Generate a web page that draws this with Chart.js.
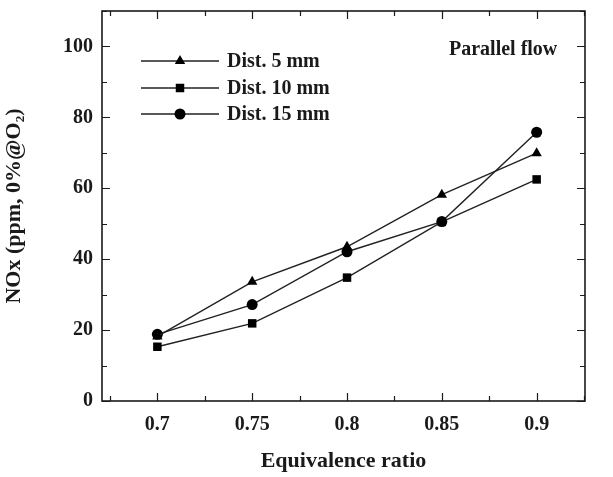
<!DOCTYPE html>
<html>
<head>
<meta charset="utf-8">
<script src="https://cdn.jsdelivr.net/npm/chart.js@4/dist/chart.umd.min.js"></script>
<style>
  html, body { margin: 0; padding: 0; background: #fff; }
  #wrap { width: 613px; height: 477px; }
</style>
</head>
<body>
<div id="wrap"><canvas id="nox"></canvas></div>
<script>
const ratios = [0.7, 0.75, 0.8, 0.85, 0.9];
const dist5 = [18.2, 33.6, 43.5, 58.2, 69.9];
const dist10 = [15.3, 21.9, 34.8, 50.5, 62.5];
const dist15 = [18.8, 27.2, 42.1, 50.6, 75.8];
const seriesNames = ["Dist. 5 mm", "Dist. 10 mm", "Dist. 15 mm"];

const xTicks = [0.675, 0.7, 0.725, 0.75, 0.775, 0.8, 0.825, 0.85, 0.875, 0.9, 0.925];
const xMajor = [0.7, 0.75, 0.8, 0.85, 0.9];
const yTicks = [0, 10, 20, 30, 40, 50, 60, 70, 80, 90, 100, 110];
const yMajor = [0, 20, 40, 60, 80, 100];

const serif = "'Liberation Serif', 'Times New Roman', serif";
const ink = "#1a1a1a";

const near = (list, v) => list.some((m) => Math.abs(m - v) < 1e-9);
const pts = (vals) => ratios.map((r, i) => ({ x: r, y: vals[i] }));

function series(label, vals, style, radius) {
  return {
    label,
    data: pts(vals),
    borderColor: "#222",
    backgroundColor: "#000",
    borderWidth: 1.4,
    pointStyle: style,
    pointRadius: radius,
    pointBorderWidth: 0,
    pointHoverRadius: radius,
    tension: 0,
  };
}

// box, inward ticks, legend and note
const decor = {
  id: "decor",
  afterDraw(chart) {
    const { ctx, chartArea: a, scales } = chart;
    const x = scales.x, y = scales.y;
    ctx.save();
    ctx.strokeStyle = ink;
    ctx.lineWidth = 1.2;
    x.ticks.forEach((t) => {
      const px = Math.round(x.getPixelForValue(t.value)) + 0.5;
      const len = near(xMajor, t.value) ? 8 : 5;
      ctx.beginPath();
      ctx.moveTo(px, a.bottom); ctx.lineTo(px, a.bottom - len);
      ctx.moveTo(px, a.top); ctx.lineTo(px, a.top + len);
      ctx.stroke();
    });
    y.ticks.forEach((t) => {
      const py = Math.round(y.getPixelForValue(t.value)) + 0.5;
      const len = near(yMajor, t.value) ? 8 : 5;
      ctx.beginPath();
      ctx.moveTo(a.left, py); ctx.lineTo(a.left + len, py);
      ctx.moveTo(a.right, py); ctx.lineTo(a.right - len, py);
      ctx.stroke();
    });
    ctx.lineWidth = 1.6;
    ctx.strokeRect(a.left, a.top, a.right - a.left, a.bottom - a.top);

    // legend
    const rows = [61, 88, 114];
    ctx.font = "bold 20px " + serif;
    ctx.textBaseline = "middle";
    chart.data.datasets.forEach((ds, i) => {
      const ly = rows[i];
      ctx.strokeStyle = "#222";
      ctx.lineWidth = 1.4;
      ctx.beginPath();
      ctx.moveTo(141, ly); ctx.lineTo(219, ly);
      ctx.stroke();
      ctx.fillStyle = "#000";
      Chart.helpers.drawPoint(ctx, { pointStyle: ds.pointStyle, radius: ds.pointRadius, borderWidth: 0 }, 180, ly);
      ctx.fillStyle = ink;
      ctx.fillText(ds.label, 227, ly + 1);
    });

    ctx.fillText("Parallel flow", 449, 50);
    ctx.restore();
  },
};

new Chart(document.getElementById("nox"), {
  type: "line",
  data: {
    datasets: [
      series(seriesNames[0], dist5, "triangle", 6),
      series(seriesNames[1], dist10, "rect", 6),
      series(seriesNames[2], dist15, "circle", 5.5),
    ],
  },
  options: {
    responsive: true,
    maintainAspectRatio: false,
    animation: false,
    layout: { padding: { top: 11, right: 28, left: 0, bottom: 0 } },
    plugins: { legend: { display: false }, tooltip: { enabled: false } },
    scales: {
      x: {
        type: "linear",
        min: 0.6708,
        max: 0.9255,
        afterBuildTicks: (s) => { s.ticks = xTicks.map((v) => ({ value: v })); },
        afterFit: (s) => { s.height = 76; s.paddingLeft = 0; s.paddingRight = 0; },
        grid: { display: false, drawTicks: false },
        border: { display: false },
        ticks: {
          autoSkip: false,
          maxRotation: 0,
          padding: 12,
          color: ink,
          font: { family: serif, size: 20, weight: "bold" },
          callback: (v) => (near(xMajor, v) ? String(Math.round(v * 100) / 100) : ""),
        },
        title: {
          display: true,
          text: "Equivalence ratio",
          color: ink,
          font: { family: serif, size: 22, weight: "bold" },
          padding: { top: 0, bottom: 2 },
        },
      },
      y: {
        min: 0,
        max: 110,
        afterBuildTicks: (s) => { s.ticks = yTicks.map((v) => ({ value: v })); },
        afterFit: (s) => { s.width = 102; s.paddingTop = 0; s.paddingBottom = 0; },
        grid: { display: false, drawTicks: false },
        border: { display: false },
        ticks: {
          autoSkip: false,
          padding: 9,
          color: ink,
          font: { family: serif, size: 20, weight: "bold" },
          callback: (v) => (near(yMajor, v) ? String(v) : ""),
        },
        title: {
          display: true,
          text: "NOx (ppm, 0%@O\u2082)",
          color: ink,
          font: { family: serif, size: 22, weight: "bold" },
          padding: { top: 1, bottom: 0 },
        },
      },
    },
  },
  plugins: [decor],
});
</script>
</body>
</html>
